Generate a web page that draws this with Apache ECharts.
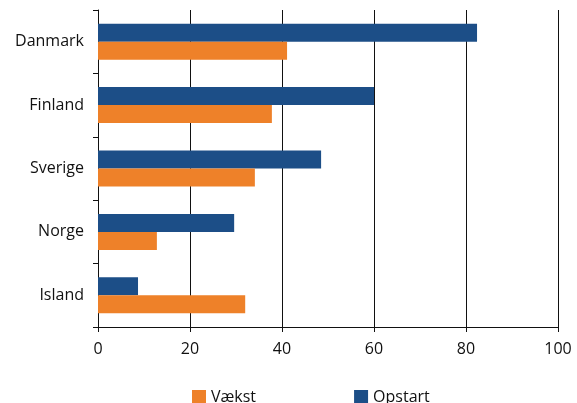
<!DOCTYPE html>
<html><head><meta charset="utf-8">
<script src="https://cdn.jsdelivr.net/npm/echarts@6/dist/echarts.min.js"></script>
<style>html,body{margin:0;padding:0;background:#fff}#c{width:577px;height:403px}</style>
</head><body><div id="c"></div>
<script>
// top-to-bottom display order
const categories = ['Danmark', 'Finland', 'Sverige', 'Norge', 'Island'];
const opstart = [82.4, 60.0, 48.5, 29.6, 8.7];
const vaekst = [41.1, 37.8, 34.1, 12.8, 32.0];
const xTicks = [0, 20, 40, 60, 80, 100];

const rev = a => a.slice().reverse();
const chart = echarts.init(document.getElementById('c'), null, {renderer: 'canvas'});
const font = 'Open Sans';
chart.setOption({
  animation: false,
  grid: {left: 98, right: 19, top: 10, bottom: 76, containLabel: false},
  legend: {
    data: ['Vækst', 'Opstart'],
    left: 187, top: 384, itemWidth: 14, itemHeight: 14, itemGap: 98,
    icon: 'rect',
    textStyle: {fontFamily: font, fontSize: 16, color: '#111'}
  },
  xAxis: {
    type: 'value', min: xTicks[0], max: xTicks[xTicks.length - 1], interval: 20,
    axisLine: {show: true, lineStyle: {color: '#111', width: 1}},
    axisTick: {show: true, length: 5, lineStyle: {color: '#111'}},
    splitLine: {show: true, lineStyle: {color: '#111', width: 1}},
    axisLabel: {fontFamily: font, fontSize: 16, color: '#111', margin: 14}
  },
  yAxis: {
    type: 'category', data: rev(categories),
    axisLine: {show: true, lineStyle: {color: '#111', width: 1}},
    axisTick: {show: true, length: 5, lineStyle: {color: '#111'}},
    axisLabel: {fontFamily: font, fontSize: 16, color: '#111', margin: 14}
  },
  series: [
    {name: 'Opstart', type: 'bar', data: rev(opstart), barWidth: 18, barGap: '0%',
     itemStyle: {color: '#1c4e87'}},
    {name: 'Vækst', type: 'bar', data: rev(vaekst), barWidth: 18, barGap: '0%',
     itemStyle: {color: '#ee8129'}}
  ]
});
</script></body></html>
